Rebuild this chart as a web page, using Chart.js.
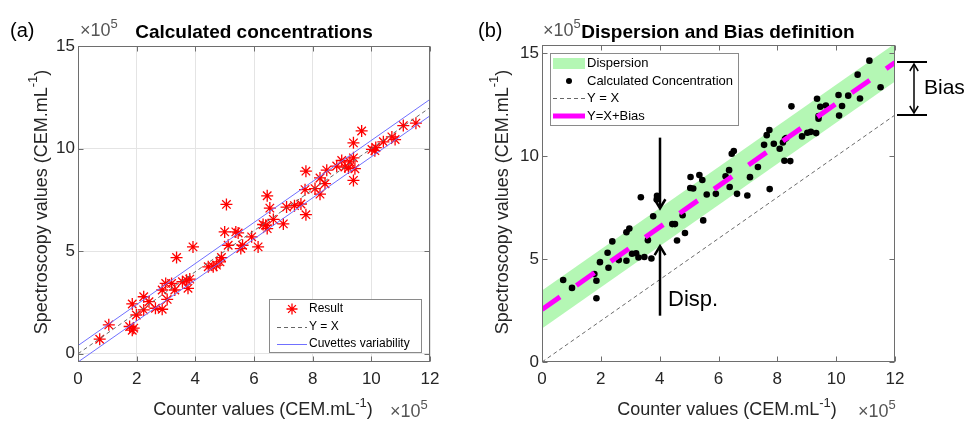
<!DOCTYPE html>
<html>
<head>
<meta charset="utf-8">
<script src="https://cdn.jsdelivr.net/npm/chart.js@4.4.1/dist/chart.umd.min.js"></script>
<style>
body { margin: 0; background: #fff; width: 978px; height: 421px; position: relative; overflow: hidden; }
canvas { position: absolute; top: 0; }
#chartA { left: 0; }
#chartB { left: 470px; }
</style>
</head>
<body>
<canvas id="chartA" width="470" height="421"></canvas>
<canvas id="chartB" width="508" height="421"></canvas>
<script>
// values are in units of 1e5 CEM/mL
const xTicks = [0, 2, 4, 6, 8, 10, 12]
const yTicks = [0, 5, 10, 15]

// (a) measured results
const resultCounter = [0.74, 1.05, 1.76, 1.85, 1.9, 1.85, 1.99, 2.24, 2.24, 2.42, 2.64, 2.87, 2.87, 2.99, 3.04, 3.19, 3.3, 3.36, 3.56, 3.7,
    3.75, 3.81, 3.92, 4.44, 4.61, 4.72, 4.84, 4.89, 5.0, 5.06, 5.12, 5.38, 5.46, 5.55, 5.61, 5.92, 6.14, 6.31, 6.4, 6.45,
    6.45, 6.54, 6.66, 7.0, 7.11, 7.38, 7.6, 7.77, 7.77, 7.74, 8.08, 8.25, 8.25, 8.42, 8.48, 8.82, 8.99, 9.1, 9.22, 9.27,
    9.39, 9.39, 9.39, 9.44, 9.67, 10.02, 10.12, 10.15, 10.41, 10.7, 10.81, 11.09, 11.52]
const resultSpectro = [0.71, 1.41, 1.33, 1.15, 1.25, 2.43, 1.89, 2.78, 2.14, 2.54, 2.22, 2.17, 3.11, 3.43, 2.65, 3.43, 3.11, 4.69, 3.51, 3.59,
    3.19, 3.64, 5.21, 4.24, 4.24, 4.32, 4.48, 4.69, 5.94, 7.28, 5.29, 5.94, 5.89, 5.13, 5.29, 5.7, 5.21, 6.3, 6.26, 6.1,
    7.7, 7.1, 6.55, 6.33, 7.15, 7.22, 7.3, 8.9, 6.78, 8.0, 8.05, 7.78, 8.57, 8.29, 8.95, 9.15, 9.42, 9.1, 9.06, 9.35,
    9.55, 10.28, 8.45, 9.02, 10.86, 9.96, 9.9, 10.05, 10.33, 10.57, 10.44, 11.12, 11.24]

// (b) calculated concentrations
const calcCounter = [0.72, 1.02, 1.85, 1.85, 1.78, 1.97, 2.23, 2.26, 2.39, 2.61, 2.87, 2.87, 2.97, 3.06, 3.2, 3.28, 3.48, 3.6, 3.72, 3.78,
    3.36, 3.91, 3.9, 4.43, 4.52, 4.59, 4.78, 4.86, 5.48, 5.05, 5.04, 5.14, 5.35, 5.45, 5.6, 5.91, 6.24, 6.36, 6.38, 6.45,
    6.52, 6.63, 6.98, 7.07, 7.34, 7.55, 7.74, 7.64, 7.73, 7.88, 8.08, 8.19, 8.26, 8.3, 8.24, 8.44, 8.48, 8.84, 9.02, 9.14,
    9.32, 9.35, 9.4, 9.4, 9.46, 9.65, 10.08, 10.1, 10.2, 10.41, 10.73, 10.81, 11.13, 11.51]
const calcSpectro = [3.98, 3.6, 3.1, 3.95, 4.27, 4.85, 5.31, 4.58, 5.86, 4.95, 4.92, 6.3, 6.48, 5.26, 5.28, 5.08, 5.1, 5.92, 5.03, 7.08,
    8.0, 8.08, 7.9, 6.7, 6.7, 5.9, 7.13, 6.27, 6.88, 8.99, 8.45, 8.43, 9.08, 8.84, 8.14, 8.17, 9.02, 9.32, 8.5, 10.12,
    10.25, 8.17, 8.09, 8.98, 9.47, 10.55, 8.4, 11.02, 11.27, 10.6, 10.36, 10.66, 10.83, 10.88, 9.78, 9.76, 12.42, 10.96, 11.14, 11.18,
    11.12, 12.79, 11.82, 11.95, 12.4, 12.46, 12.97, 11.97, 12.44, 12.94, 13.96, 12.8, 14.64, 13.35]

const lineEnds = [0, 12]
const cuvetteSpread = 0.4
const bias = 2.55
const dispersion = 0.92

const FONT = '"Liberation Sans", Arial, Helvetica, sans-serif'
const INK = '#262626'

const pts = (xs, ys) => xs.map((x, i) => ({ x: x, y: ys[i] }))
const offsetLine = d => lineEnds.map(x => ({ x: x, y: x + d }))

function drawRich(ctx, parts, x, y, size, align) {
    const supSize = Math.round(size * 0.72)
    let w = 0
    parts.forEach(p => {
        ctx.font = (p.sup ? supSize : size) + 'px ' + FONT
        w += ctx.measureText(p.t).width
    })
    let cx = align === 'center' ? x - w / 2 : x
    ctx.textAlign = 'left'
    parts.forEach(p => {
        ctx.font = (p.sup ? supSize : size) + 'px ' + FONT
        ctx.fillText(p.t, cx, p.sup ? y - size * 0.45 : y)
        cx += ctx.measureText(p.t).width
    })
}

const xLabel = [{ t: 'Counter values (CEM.mL' }, { t: '-1', sup: true }, { t: ')' }]
const yLabel = [{ t: 'Spectroscopy values (CEM.mL' }, { t: '-1', sup: true }, { t: ')' }]
const expLabel = [{ t: '×10' }, { t: '5', sup: true }]

function drawFrame(chart) {
    const { ctx, chartArea: a, scales } = chart
    ctx.save()
    ctx.strokeStyle = '#6e6e6e'
    ctx.lineWidth = 1
    const l = Math.round(a.left) + 0.5, r = Math.round(a.right) - 0.5
    const t = Math.round(a.top) + 0.5, b = Math.round(a.bottom) - 0.5
    ctx.strokeRect(l, t, r - l, b - t)
    ctx.beginPath()
    xTicks.forEach(v => {
        const px = Math.round(scales.x.getPixelForValue(v)) + 0.5
        ctx.moveTo(px, b); ctx.lineTo(px, b - 5)
        ctx.moveTo(px, t); ctx.lineTo(px, t + 5)
    })
    yTicks.forEach(v => {
        const py = Math.round(scales.y.getPixelForValue(v)) + 0.5
        ctx.moveTo(l, py); ctx.lineTo(l + 5, py)
        ctx.moveTo(r, py); ctx.lineTo(r - 5, py)
    })
    ctx.stroke()
    ctx.restore()
}

function drawTexts(ctx, o) {
    ctx.save()
    ctx.fillStyle = '#000'
    ctx.textBaseline = 'alphabetic'
    ctx.font = '20px ' + FONT
    ctx.textAlign = 'left'
    ctx.fillText(o.tag, o.tagX, 37)
    ctx.fillStyle = '#555'
    drawRich(ctx, expLabel, o.expX, 36, 18, 'left')
    drawRich(ctx, expLabel, o.expBX, 417, 18, 'left')
    ctx.fillStyle = '#000'
    ctx.font = 'bold 19px ' + FONT
    ctx.textAlign = 'center'
    ctx.fillText(o.title, o.titleX, 38)
    ctx.fillStyle = INK
    drawRich(ctx, xLabel, o.xLabX, 415, 18, 'center')
    ctx.save()
    ctx.translate(o.yLabX, 202)
    ctx.rotate(-Math.PI / 2)
    ctx.textBaseline = 'middle'
    drawRich(ctx, yLabel, 0, 0, 18, 'center')
    ctx.restore()
    ctx.restore()
}

function legendBox(ctx, x, y, w, h) {
    ctx.fillStyle = '#fff'
    ctx.fillRect(x, y, w, h)
    ctx.strokeStyle = '#8a8a8a'
    ctx.lineWidth = 1
    ctx.strokeRect(x + 0.5, y + 0.5, w, h)
}

function starMark(ctx, x, y, r) {
    ctx.beginPath()
    for (let k = 0; k < 4; k++) {
        const ang = k * Math.PI / 4
        ctx.moveTo(x - r * Math.cos(ang), y - r * Math.sin(ang))
        ctx.lineTo(x + r * Math.cos(ang), y + r * Math.sin(ang))
    }
    ctx.stroke()
}

function arrowHead(ctx, x, y, dir, size) {
    // dir = 1 points down, -1 points up
    ctx.beginPath()
    ctx.moveTo(x - size * 0.6, y - dir * size)
    ctx.lineTo(x, y)
    ctx.lineTo(x + size * 0.6, y - dir * size)
    ctx.stroke()
}

const scaleBase = (min, max, ticks, grid, pad, fit) => ({
    type: 'linear',
    min: min,
    max: max,
    afterBuildTicks: ax => { ax.ticks = ticks.map(v => ({ value: v })) },
    afterFit: fit,
    border: { display: false },
    grid: { display: grid, color: '#e4e4e4', drawTicks: false, lineWidth: 1 },
    ticks: { color: INK, font: { size: 17, family: FONT }, padding: pad, maxRotation: 0, autoSkip: false, callback: v => String(v) }
})

// ---- (a) calculated concentrations
const leftPlugin = {
    id: 'leftDecor',
    afterDraw(chart) {
        const ctx = chart.ctx
        drawFrame(chart)
        ctx.save()
        legendBox(ctx, 269, 299, 152, 53)
        ctx.strokeStyle = '#ff0000'
        ctx.lineWidth = 1.3
        starMark(ctx, 292, 309, 5.5)
        ctx.strokeStyle = '#666'
        ctx.lineWidth = 1
        ctx.setLineDash([4, 3])
        ctx.beginPath(); ctx.moveTo(277, 327.5); ctx.lineTo(307, 327.5); ctx.stroke()
        ctx.setLineDash([])
        ctx.strokeStyle = '#7070ff'
        ctx.beginPath(); ctx.moveTo(277, 344.5); ctx.lineTo(307, 344.5); ctx.stroke()
        ctx.fillStyle = '#000'
        ctx.font = '12px ' + FONT
        ctx.textAlign = 'left'
        ctx.textBaseline = 'middle'
        ctx.fillText('Result', 309, 309)
        ctx.fillText('Y = X', 309, 327)
        ctx.fillText('Cuvettes variability', 309, 344)
        ctx.restore()
        drawTexts(ctx, { tag: '(a)', tagX: 10, expX: 80, expBX: 390, title: 'Calculated concentrations', titleX: 254, xLabX: 263, yLabX: 42 })
    }
}

new Chart(document.getElementById('chartA'), {
    type: 'scatter',
    data: {
        datasets: [{
            data: pts(resultCounter, resultSpectro),
            pointStyle: 'star',
            pointRadius: 6,
            borderColor: '#ff0000',
            backgroundColor: '#ff0000',
            borderWidth: 1.3,
            order: 3
        }, {
            data: offsetLine(0),
            showLine: true,
            borderColor: '#6a6a6a',
            borderWidth: 1,
            borderDash: [4, 3],
            pointRadius: 0,
            order: 1
        }, {
            data: offsetLine(cuvetteSpread),
            showLine: true,
            borderColor: '#7070ff',
            borderWidth: 1,
            pointRadius: 0,
            order: 1
        }, {
            data: offsetLine(-cuvetteSpread),
            showLine: true,
            borderColor: '#7070ff',
            borderWidth: 1,
            pointRadius: 0,
            order: 1
        }]
    },
    options: {
        responsive: false,
        animation: false,
        layout: { padding: { left: 0, top: 46, right: 40, bottom: 0 } },
        plugins: { legend: { display: false }, tooltip: { enabled: false } },
        scales: {
            x: scaleBase(0, 12, xTicks, true, 7, s => { s.height = 59 }),
            y: scaleBase(-0.4, 15, yTicks, true, 3, s => { s.width = 78 })
        }
    },
    plugins: [leftPlugin]
})

// ---- (b) dispersion and bias
const rightPlugin = {
    id: 'rightDecor',
    afterDraw(chart) {
        const ctx = chart.ctx
        const sx = chart.scales.x, sy = chart.scales.y
        drawFrame(chart)
        ctx.save()
        // legend
        legendBox(ctx, 80, 53, 188, 72)
        ctx.fillStyle = '#b4f7b4'
        ctx.fillRect(83, 58, 32, 11)
        ctx.fillStyle = '#000'
        ctx.beginPath(); ctx.arc(99, 81, 3, 0, Math.PI * 2); ctx.fill()
        ctx.strokeStyle = '#666'
        ctx.lineWidth = 1
        ctx.setLineDash([4, 3])
        ctx.beginPath(); ctx.moveTo(83, 98.5); ctx.lineTo(115, 98.5); ctx.stroke()
        ctx.setLineDash([])
        ctx.strokeStyle = '#ff00ff'
        ctx.lineWidth = 5
        ctx.beginPath(); ctx.moveTo(83, 116); ctx.lineTo(115, 116); ctx.stroke()
        ctx.fillStyle = '#000'
        ctx.font = '13px ' + FONT
        ctx.textAlign = 'left'
        ctx.textBaseline = 'middle'
        ctx.fillText('Dispersion', 117, 63)
        ctx.fillText('Calculated Concentration', 117, 81)
        ctx.fillText('Y = X', 117, 98)
        ctx.fillText('Y=X+Bias', 117, 116)

        // dispersion arrows at x = 4
        ctx.strokeStyle = '#000'
        ctx.lineWidth = 2.5
        const ax = Math.round(sx.getPixelForValue(4))
        const topTip = sy.getPixelForValue(4 + bias + dispersion)
        const lowTip = sy.getPixelForValue(4 + bias - dispersion)
        ctx.beginPath(); ctx.moveTo(ax, sy.getPixelForValue(10.9)); ctx.lineTo(ax, topTip - 1); ctx.stroke()
        arrowHead(ctx, ax, topTip, 1, 9)
        ctx.beginPath(); ctx.moveTo(ax, sy.getPixelForValue(2.25)); ctx.lineTo(ax, lowTip + 1); ctx.stroke()
        arrowHead(ctx, ax, lowTip, -1, 9)
        ctx.font = '22px ' + FONT
        ctx.textBaseline = 'alphabetic'
        ctx.fillText('Disp.', 198, 306)

        // bias markers on the right side
        const b1 = Math.round(sy.getPixelForValue(12 + bias))
        const b0 = Math.round(sy.getPixelForValue(12))
        ctx.lineWidth = 2
        ctx.beginPath()
        ctx.moveTo(427, b1); ctx.lineTo(457, b1)
        ctx.moveTo(427, b0); ctx.lineTo(457, b0)
        ctx.stroke()
        ctx.lineWidth = 1.5
        ctx.beginPath(); ctx.moveTo(444, b1 + 2); ctx.lineTo(444, b0 - 2); ctx.stroke()
        arrowHead(ctx, 444, b1 + 2, -1, 7)
        arrowHead(ctx, 444, b0 - 2, 1, 7)
        ctx.font = '21px ' + FONT
        ctx.textBaseline = 'middle'
        ctx.fillText('Bias', 454, 88)
        ctx.restore()
        drawTexts(ctx, { tag: '(b)', tagX: 8, expX: 73, expBX: 388, title: 'Dispersion and Bias definition', titleX: 248, xLabX: 257, yLabX: 33 })
    }
}

new Chart(document.getElementById('chartB'), {
    type: 'scatter',
    data: {
        datasets: [{
            data: offsetLine(bias + dispersion),
            showLine: true,
            borderWidth: 0,
            pointRadius: 0,
            fill: '+1',
            backgroundColor: '#b4f7b4',
            order: 4
        }, {
            data: offsetLine(bias - dispersion),
            showLine: true,
            borderWidth: 0,
            pointRadius: 0,
            fill: false,
            order: 5
        }, {
            data: pts(calcCounter, calcSpectro),
            pointStyle: 'circle',
            pointRadius: 3.3,
            backgroundColor: '#000',
            borderWidth: 0,
            order: 2
        }, {
            data: offsetLine(0),
            showLine: true,
            borderColor: '#6a6a6a',
            borderWidth: 1,
            borderDash: [4, 3],
            pointRadius: 0,
            order: 1
        }, {
            data: offsetLine(bias),
            showLine: true,
            borderColor: '#ff00ff',
            borderWidth: 5,
            borderDash: [22, 20],
            borderCapStyle: 'butt',
            pointRadius: 0,
            order: 0
        }]
    },
    options: {
        responsive: false,
        animation: false,
        layout: { padding: { left: 0, top: 45, right: 83, bottom: 0 } },
        plugins: { legend: { display: false }, tooltip: { enabled: false } },
        scales: {
            x: scaleBase(0, 12, xTicks, false, 7, s => { s.height = 59 }),
            y: scaleBase(0, 15.4, yTicks, false, 3, s => { s.width = 72 })
        }
    },
    plugins: [rightPlugin]
})
</script>
</body>
</html>
